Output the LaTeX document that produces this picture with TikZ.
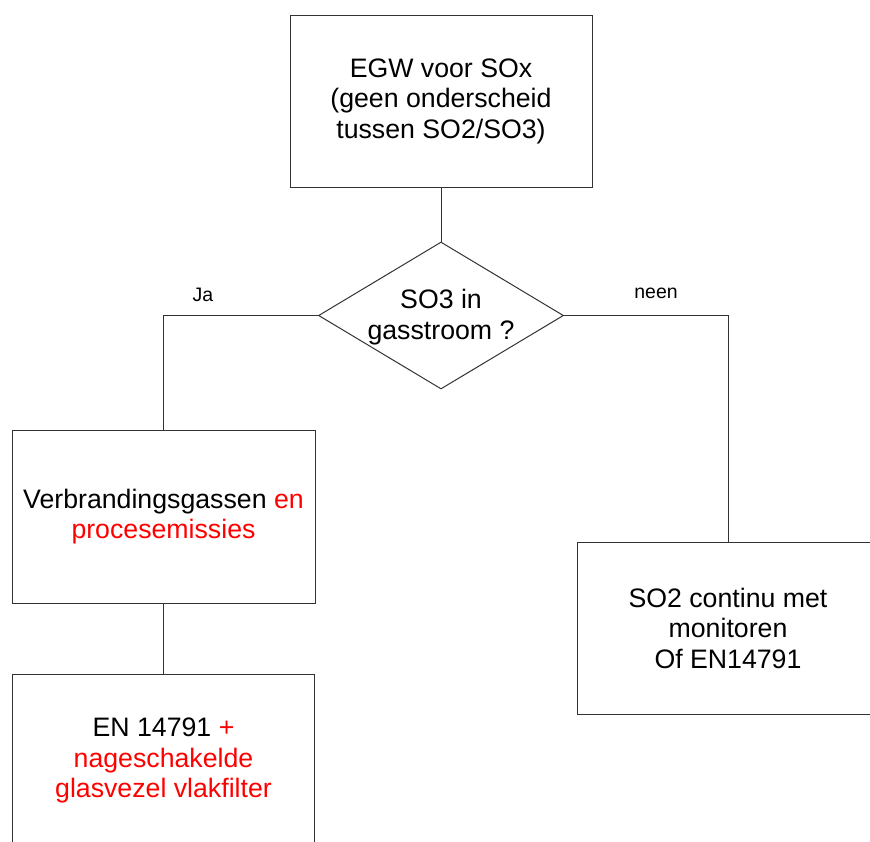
\documentclass[tikz,border=0pt]{standalone}
\usepackage{fontspec}
\setmainfont{Liberation Sans}
\usetikzlibrary{shapes.geometric}
\begin{document}
\begin{tikzpicture}[x=1pt,y=-1pt,
  line/.style={draw=black!80,line width=1pt},
  box/.style={line,rectangle,inner sep=0pt,minimum width=302pt,minimum height=172pt,align=center,font=\fontsize{26.7}{30.5}\selectfont},
  decision/.style={line,diamond,inner sep=0pt,minimum width=245pt,minimum height=147pt},
  txt/.style={align=center,inner sep=0pt,font=\fontsize{26.7}{31}\selectfont},
  branch/.style={inner sep=0pt,font=\fontsize{19.5}{21}\selectfont}]
\clip (0,0) rectangle (870,841);
\fill[white] (0,0) rectangle (870,841);
\node[box] (top) at (441,101) {EGW voor SOx\\(geen onderscheid\\tussen SO2/SO3)};
\node[decision] (dia) at (441,315.5) {};
\node[txt] (diatext) at (441,317) {SO3 in\\gasstroom ?};
\node[box,minimum width=303pt,minimum height=173pt] (left) at (163.5,516.5) {Verbrandingsgassen \textcolor{red}{en}\\\textcolor{red}{procesemissies}};
\node[box,minimum width=302pt,minimum height=173pt] (bot) at (163.5,760.5) {EN 14791 \textcolor{red}{+}\\\textcolor{red}{nageschakelde}\\\textcolor{red}{glasvezel vlakfilter}};
\node[box,minimum width=302pt,minimum height=172pt] (right) at (728,628) {SO2 continu met\\monitoren\\Of EN14791};
\node[branch] (ja) at (203,295) {Ja};
\node[branch] (neen) at (656,293) {neen};
\draw[line] (top.south) -- (dia.north);
\draw[line] (dia.west) -| (left.north);
\draw[line] (left.south) -- (bot.north);
\draw[line] (dia.east) -| (right.north);
\end{tikzpicture}
\end{document}
